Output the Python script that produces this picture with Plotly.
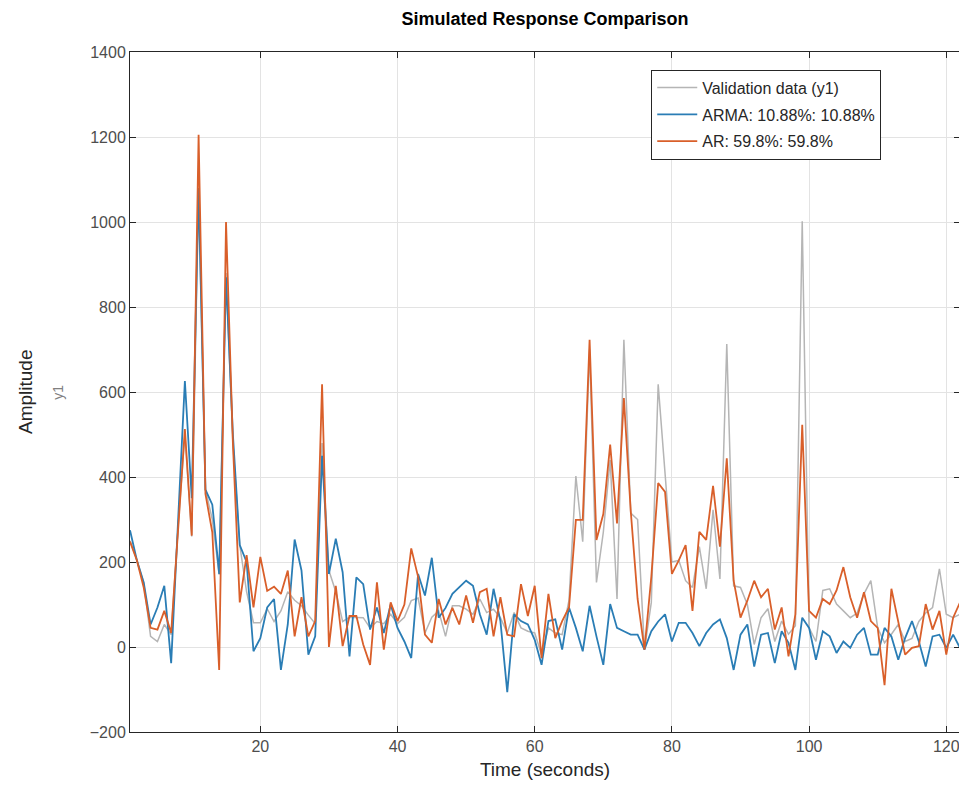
import plotly.graph_objects as go

time_s = list(range(1, 123))

validation = [250, 205, 150, 25, 13, 53, 29, 280, 500, 260,
              1070, 370, 300, 170, 880, 480, 240, 130, 57, 57,
              90, 60, 85, 130, 110, 97, 75, 55, 480, 180,
              130, 60, 70, 69, 69, 45, 60, 55, 77, 55,
              70, 109, 115, 33, 70, 85, 25, 97, 97, 89,
              77, 113, 81, 89, 69, 33, 81, 45, 37, 33,
              -18, 45, 33, 29, 110, 402, 248, 700, 152, 270,
              440, 113, 723, 315, 300, -6, 105, 618, 418, 200,
              204, 156, 140, 236, 137, 323, 160, 713, 144, 140,
              100, 6, 69, 90, 13, 61, 30, 50, 1002, 45,
              13, 133, 137, 101, 85, 69, 80, 125, 156, 45,
              10, 30, 53, 13, 20, 60, 80, 93, 184, 77,
              69, 77]

arma = [275, 204, 152, 53, 93, 144, -38, 280, 626, 350,
        1080, 370, 335, 172, 870, 500, 240, 200, -10, 21,
        93, 113, -54, 53, 253, 180, -18, 25, 450, 172,
        255, 176, -22, 164, 148, 41, 93, 33, 100, 45,
        13, -26, 172, 121, 210, 69, 92, 125, 140, 156,
        144, 77, 29, 137, 61, -106, 77, 61, 53, 17,
        -42, 61, 65, -6, 93, 45, -10, 97, 25, -42,
        101, 45, 37, 29, 29, -6, 37, 60, 77, 13,
        57, 57, 33, 2, 33, 53, 65, 21, -54, 29,
        53, -46, 29, 33, -38, 37, 10, -54, 69, 45,
        -30, 37, 25, -14, 13, -2, 29, 45, -18, -18,
        45, 25, -30, 21, 61, 13, -46, 25, 29, -2,
        29, -2]

ar = [248, 204, 140, 45, 41, 85, 33, 280, 513, 262,
      1205, 360, 270, -54, 1000, 480, 105, 216, 93, 212,
      132, 142, 125, 180, 25, 117, 25, 61, 618, 0,
      144, 2, 73, 73, 6, -42, 152, -6, 105, 61,
      100, 232, 165, 29, 10, 113, 53, 92, 53, 121,
      57, 129, 137, 25, 117, 29, 25, 148, 73, 144,
      -26, 125, 21, 61, 93, 299, 299, 723, 252, 313,
      476, 291, 586, 320, 113, -6, 165, 386, 365, 172,
      204, 240, 85, 271, 252, 379, 236, 444, 156, 69,
      109, 156, 117, 137, 41, 93, -22, 77, 523, 85,
      69, 113, 101, 133, 188, 117, 69, 129, 61, 45,
      -90, 137, 61, -18, -2, 2, 101, 41, 85, -18,
      69, 105]

x_ticks = [20, 40, 60, 80, 100, 120]
y_ticks = [-200, 0, 200, 400, 600, 800, 1000, 1200, 1400]

FONT = "Liberation Sans, Arial, Helvetica, sans-serif"

fig = go.Figure()
fig.add_trace(go.Scatter(x=time_s, y=validation, mode="lines", name="Validation data (y1)",
                         legendgroup="g1",
                         line=dict(color="#b5b5b5", width=1.5)))
fig.add_trace(go.Scatter(x=time_s, y=arma, mode="lines", name="ARMA: 10.88%: 10.88%",
                         legendgroup="g2",
                         line=dict(color="#2a7db5", width=1.8)))
fig.add_trace(go.Scatter(x=time_s, y=ar, mode="lines", name="AR: 59.8%: 59.8%",
                         legendgroup="g3",
                         line=dict(color="#d95f2a", width=1.8)))

axis_common = dict(showgrid=True, gridcolor="#e3e3e3", gridwidth=1,
                   showline=True, linecolor="#262626", linewidth=1, mirror="allticks",
                   ticks="inside", ticklen=6, tickcolor="#262626",
                   tickfont=dict(family=FONT, size=16, color="#4d4d4d"),
                   zeroline=False)

# page body has an 8px default margin, so the figure is shifted by 8px
fig.update_layout(
    width=959, height=792,
    margin=dict(l=122, r=7, t=44, b=68),
    paper_bgcolor="white", plot_bgcolor="white",
    title=dict(text="<b>Simulated Response Comparison</b>", x=(122 + 952) / 2 / 959, xanchor="center",
               y=1 - 11 / 792, yanchor="middle",
               font=dict(family=FONT, size=18, color="#000000")),
    xaxis=dict(range=[1, 122], tickvals=x_ticks, **axis_common,
               title=dict(text="Time (seconds)", standoff=8,
                          font=dict(family=FONT, size=19, color="#262626"))),
    yaxis=dict(range=[-200, 1400], tickvals=y_ticks, **axis_common),
    legend=dict(x=0.628, y=0.974, xanchor="left", yanchor="top",
                bgcolor="white", bordercolor="#262626", borderwidth=1,
                font=dict(family=FONT, size=16, color="#262626"),
                tracegroupgap=3, itemwidth=40),
    showlegend=True,
    annotations=[
        dict(text="Amplitude", x=-0.1265, y=0.5, xref="paper", yref="paper", textangle=-90,
             showarrow=False, xanchor="center", yanchor="middle",
             font=dict(family=FONT, size=19, color="#262626")),
        dict(text="y1", x=-0.087, y=0.5, xref="paper", yref="paper", textangle=-90,
             showarrow=False, xanchor="center", yanchor="middle",
             font=dict(family=FONT, size=14, color="#808080")),
    ],
)

fig.write_html("out.html")
